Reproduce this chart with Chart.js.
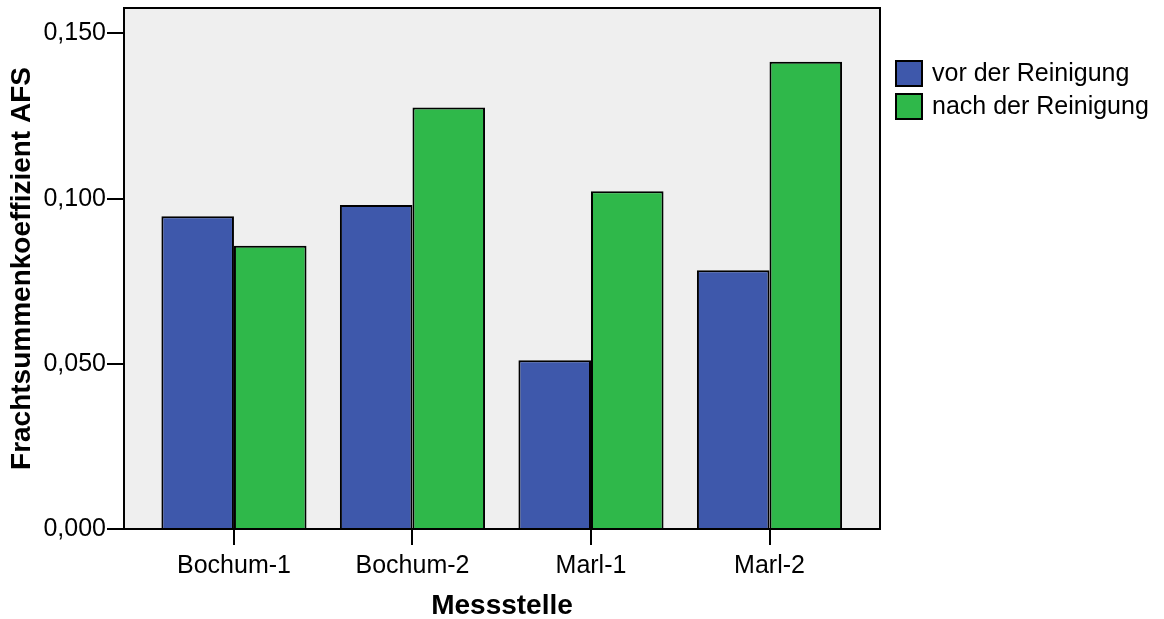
<!DOCTYPE html>
<html>
<head>
<meta charset="utf-8">
<script src="https://cdn.jsdelivr.net/npm/chart.js@4"></script>
<style>
  body { margin: 0; background: #fff; }
  #wrap { width: 1164px; height: 619px; position: relative; }
</style>
</head>
<body>
<div id="wrap"><canvas id="chart"></canvas></div>
<script>
const categories = ["Bochum-1", "Bochum-2", "Marl-1", "Marl-2"];
const seriesLabels = ["vor der Reinigung", "nach der Reinigung"];
const vorValues = [0.0947, 0.0981, 0.0511, 0.0783];
const nachValues = [0.0857, 0.1276, 0.1022, 0.1414];
const yTicks = [0, 0.05, 0.1, 0.15];

const FONT = "'Liberation Sans', Arial, sans-serif";
const blue = "#3e58ab";
const green = "#2fb84a";

// grey plot background + frame round the plot area
const frame = {
  id: "frame",
  beforeDraw(chart) {
    const { ctx, chartArea: a } = chart;
    ctx.save();
    ctx.fillStyle = "#efefef";
    ctx.fillRect(a.left, a.top, a.right - a.left, a.bottom - a.top);
    ctx.restore();
  },
  afterDraw(chart) {
    const { ctx, chartArea: a } = chart;
    ctx.save();
    ctx.strokeStyle = "#000";
    ctx.lineWidth = 2;
    ctx.strokeRect(a.left, a.top, a.right - a.left, a.bottom - a.top);

    // legend
    const x = 895;
    let y = 60;
    ctx.font = "25px " + FONT;
    ctx.textBaseline = "middle";
    chart.data.datasets.forEach((ds) => {
      ctx.fillStyle = ds.backgroundColor;
      ctx.fillRect(x, y, 28, 27);
      ctx.strokeRect(x + 1, y + 1, 26, 25);
      ctx.fillStyle = "#000";
      ctx.fillText(ds.label, 932, y + 14);
      y += 33;
    });
    ctx.restore();
  },
};

new Chart(document.getElementById("chart"), {
  type: "bar",
  data: {
    datasets: [
      {
        label: seriesLabels[0],
        data: vorValues.map((v, i) => ({ x: i, y: v })),
        backgroundColor: blue,
        borderColor: "#000",
        borderWidth: 2,
      },
      {
        label: seriesLabels[1],
        data: nachValues.map((v, i) => ({ x: i, y: v })),
        backgroundColor: green,
        borderColor: "#000",
        borderWidth: 2,
      },
    ],
  },
  options: {
    responsive: true,
    maintainAspectRatio: false,
    animation: false,
    categoryPercentage: 0.813,
    barPercentage: 1,
    layout: { padding: { top: 8, right: 284, left: 0, bottom: 0 } },
    plugins: {
      legend: { display: false },
      tooltip: { enabled: false },
    },
    scales: {
      x: {
        type: "linear",
        offset: false,
        min: -0.616,
        max: 3.619,
        afterBuildTicks(scale) {
          scale.ticks = categories.map((c, i) => ({ value: i }));
        },
        afterFit(scale) {
          scale.height = 90;
          scale.paddingLeft = 0;
          scale.paddingRight = 0;
        },
        grid: {
          offset: false,
          drawOnChartArea: false,
          drawTicks: true,
          tickLength: 16,
          color: "#000",
          lineWidth: 2,
        },
        border: { display: true, color: "#000", width: 2 },
        ticks: {
          maxRotation: 0,
          autoSkip: false,
          padding: 6,
          color: "#000",
          font: { family: FONT, size: 25 },
          callback: function (value) {
            return categories[value];
          },
        },
        title: {
          display: true,
          text: "Messstelle",
          color: "#000",
          font: { family: FONT, size: 28, weight: "bold" },
          padding: { top: 0, bottom: -4 },
        },
      },
      y: {
        min: 0,
        max: 0.1577,
        afterBuildTicks(scale) {
          scale.ticks = yTicks.map((v) => ({ value: v }));
        },
        afterFit(scale) {
          scale.width = 124;
          scale.paddingTop = 0;
          scale.paddingBottom = 0;
        },
        grid: {
          drawOnChartArea: false,
          drawTicks: true,
          tickLength: 17,
          color: "#000",
          lineWidth: 2,
        },
        border: { display: true, color: "#000", width: 2 },
        ticks: {
          padding: 1,
          color: "#000",
          font: { family: FONT, size: 25 },
          callback: function (value) {
            return value.toFixed(3).replace(".", ",");
          },
        },
        title: {
          display: true,
          text: "Frachtsummenkoeffizient AFS",
          color: "#000",
          font: { family: FONT, size: 28, weight: "bold" },
          padding: { top: 5, bottom: 0 },
        },
      },
    },
  },
  plugins: [frame],
});
</script>
</body>
</html>
